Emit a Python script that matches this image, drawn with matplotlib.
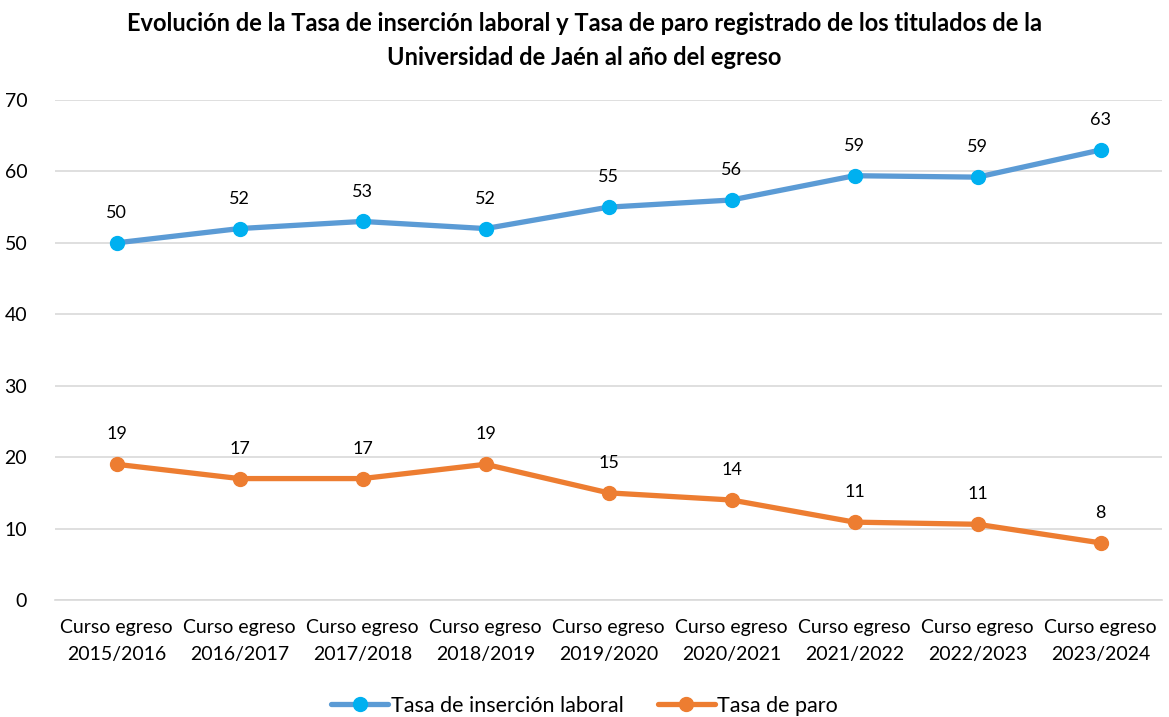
import matplotlib.pyplot as plt
import numpy as np

plt.rcParams['font.family'] = ['Lato', 'DejaVu Sans']

categories = ['Curso egreso\n2015/2016', 'Curso egreso\n2016/2017', 'Curso egreso\n2017/2018',
              'Curso egreso\n2018/2019', 'Curso egreso\n2019/2020', 'Curso egreso\n2020/2021',
              'Curso egreso\n2021/2022', 'Curso egreso\n2022/2023', 'Curso egreso\n2023/2024']
insercion = [50, 52, 53, 52, 55, 56, 59.4, 59.2, 63]
paro = [19, 17, 17, 19, 15, 14, 10.9, 10.6, 8]

fig = plt.figure(figsize=(11.69, 7.17), dpi=100)
ax = fig.add_axes([55 / 1169, 1 - 600 / 717, (1162 - 55) / 1169, 500 / 717])

x = np.arange(len(categories))
ax.plot(x, insercion, color='#5B9BD5', linewidth=3.8, marker='o', markersize=10,
        markerfacecolor='#00B0F0', markeredgecolor='#00B0F0', label='Tasa de inserción laboral',
        solid_capstyle='round', zorder=3)
ax.plot(x, paro, color='#ED7D31', linewidth=3.8, marker='o', markersize=10,
        markerfacecolor='#ED7D31', markeredgecolor='#ED7D31', label='Tasa de paro',
        solid_capstyle='round', zorder=3)

# data labels, about 30 px above each point
for serie in (insercion, paro):
    for xi, v in zip(x, serie):
        ax.annotate(f'{v:.0f}', (xi, v), xytext=(0, 21.5), textcoords='offset points',
                    ha='center', va='center', fontsize=13, color='black')

ax.set_xlim(-0.5, len(categories) - 0.5)
ax.set_ylim(0, 70)
ax.set_yticks(range(0, 71, 10))
ax.set_xticks(x)
ax.set_xticklabels(categories, fontsize=14, linespacing=1.65)
ax.tick_params(axis='y', labelsize=14, length=0, pad=20)
ax.tick_params(axis='x', length=0, pad=14)
ax.grid(axis='y', color='#D9D9D9', linewidth=1.2)
ax.set_axisbelow(True)
for s in ['top', 'right', 'left']:
    ax.spines[s].set_visible(False)
ax.spines['bottom'].set_color('#D9D9D9')
ax.spines['bottom'].set_linewidth(1.2)

fig.suptitle('Evolución de la Tasa de inserción laboral y Tasa de paro registrado de los titulados de la\n'
             'Universidad de Jaén al año del egreso', fontsize=17, fontweight='bold', y=0.983,
             linespacing=1.55)

fig.legend(loc='lower center', bbox_to_anchor=(0.5, -0.025), ncol=2, frameon=False,
           fontsize=15.5, handlelength=2.65, columnspacing=1.6, handletextpad=0.1)

fig.savefig('out.png', dpi=100)
